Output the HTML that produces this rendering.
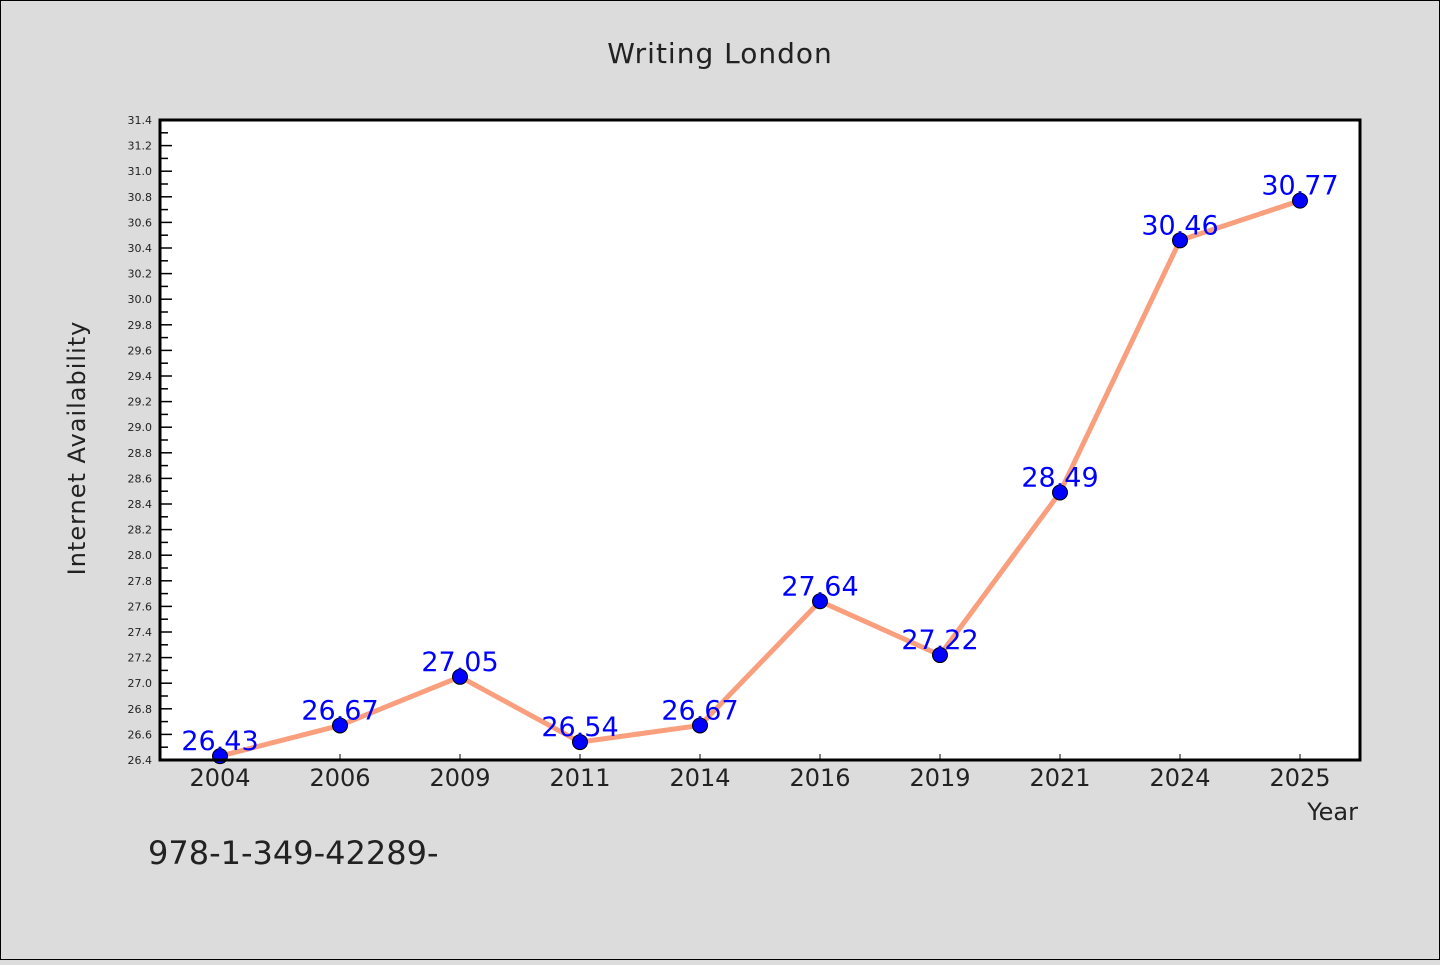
<!DOCTYPE html>
<html><head><meta charset="utf-8"><style>
body{margin:0;background:#dcdcdc;}
svg text{font-family:"WenQuanYi Zen Hei","DejaVu Sans",sans-serif;}
</style></head><body>
<svg width="1440" height="960" viewBox="0 0 1440 960" xmlns="http://www.w3.org/2000/svg">
<rect x="0.5" y="0.5" width="1439" height="959" fill="#dcdcdc" stroke="#000" stroke-width="1"/>
<text x="720" y="63" text-anchor="middle" font-size="28" fill="#222" style="letter-spacing:1px">Writing London</text>
<rect x="160" y="120" width="1200" height="640" fill="#fff"/>
<g id="yaxis"></g>
<g id="xaxis"></g>
<g id="series"></g>
<rect x="160" y="120" width="1200" height="640" fill="none" stroke="#000" stroke-width="3"/>
<text transform="translate(85,448) rotate(-90)" text-anchor="middle" font-size="24" fill="#222" style="letter-spacing:1px">Internet Availability</text>
<text x="1358" y="820" text-anchor="end" font-size="24" fill="#222">Year</text>
<text x="148" y="864" font-size="32" fill="#222">978-1-349-42289-</text>
</svg>
<script>
const categories=["2004","2006","2009","2011","2014","2016","2019","2021","2024","2025"];
const values=[26.43,26.67,27.05,26.54,26.67,27.64,27.22,28.49,30.46,30.77];
const yMin=26.4,yMax=31.4;
const NS="http://www.w3.org/2000/svg";
const L=160,R=1360,T=120,B=760;
function xPos(i){return L+60+i*(R-L)/categories.length;}
function yPos(v){return B-(v-yMin)/(yMax-yMin)*(B-T);}
function mk(tag,attrs,parent){const e=document.createElementNS(NS,tag);for(const k in attrs)e.setAttribute(k,attrs[k]);parent.appendChild(e);return e;}
const ya=document.getElementById('yaxis'),xa=document.getElementById('xaxis'),sg=document.getElementById('series');
for(let k=0;k<=50;k++){
  const v=yMin+k*0.1;const y=yPos(v);
  const major=k%2===0;
  const t=mk('line',{x1:L,x2:L+(major?12:8),y1:y,y2:y,stroke:'#000','stroke-width':1.5},ya);
  
  
  if(major){
    const tx=mk('text',{x:L-8,y:y+4,'text-anchor':'end','font-size':11,fill:'#222'},ya);
    tx.textContent=v.toFixed(1);
    
    
  }
}
categories.forEach((c,i)=>{
  const x=xPos(i);
  const t=mk('line',{x1:x,x2:x,y1:B,y2:B-6,stroke:'#000','stroke-width':1},xa);
  
  
  const tx=mk('text',{x:x,y:B+26,'text-anchor':'middle','font-size':24,fill:'#222'},xa);
  tx.textContent=c;
  
  
});
const pts=values.map((v,i)=>xPos(i)+','+yPos(v)).join(' ');
const pl=mk('polyline',{points:pts,fill:'none',stroke:'#fa9f7e','stroke-width':5,'stroke-linejoin':'round'},sg);


values.forEach((v,i)=>{
  const c=mk('circle',{cx:xPos(i),cy:yPos(v),r:7.5,fill:'#0000ff',stroke:'#000','stroke-width':1},sg);
  
  
  const t=mk('text',{x:xPos(i),y:yPos(v)-6,'text-anchor':'middle','font-size':27,fill:'#0000ff'},sg);
  t.textContent=v.toFixed(2);
  
  
});
</script>
</body></html>
